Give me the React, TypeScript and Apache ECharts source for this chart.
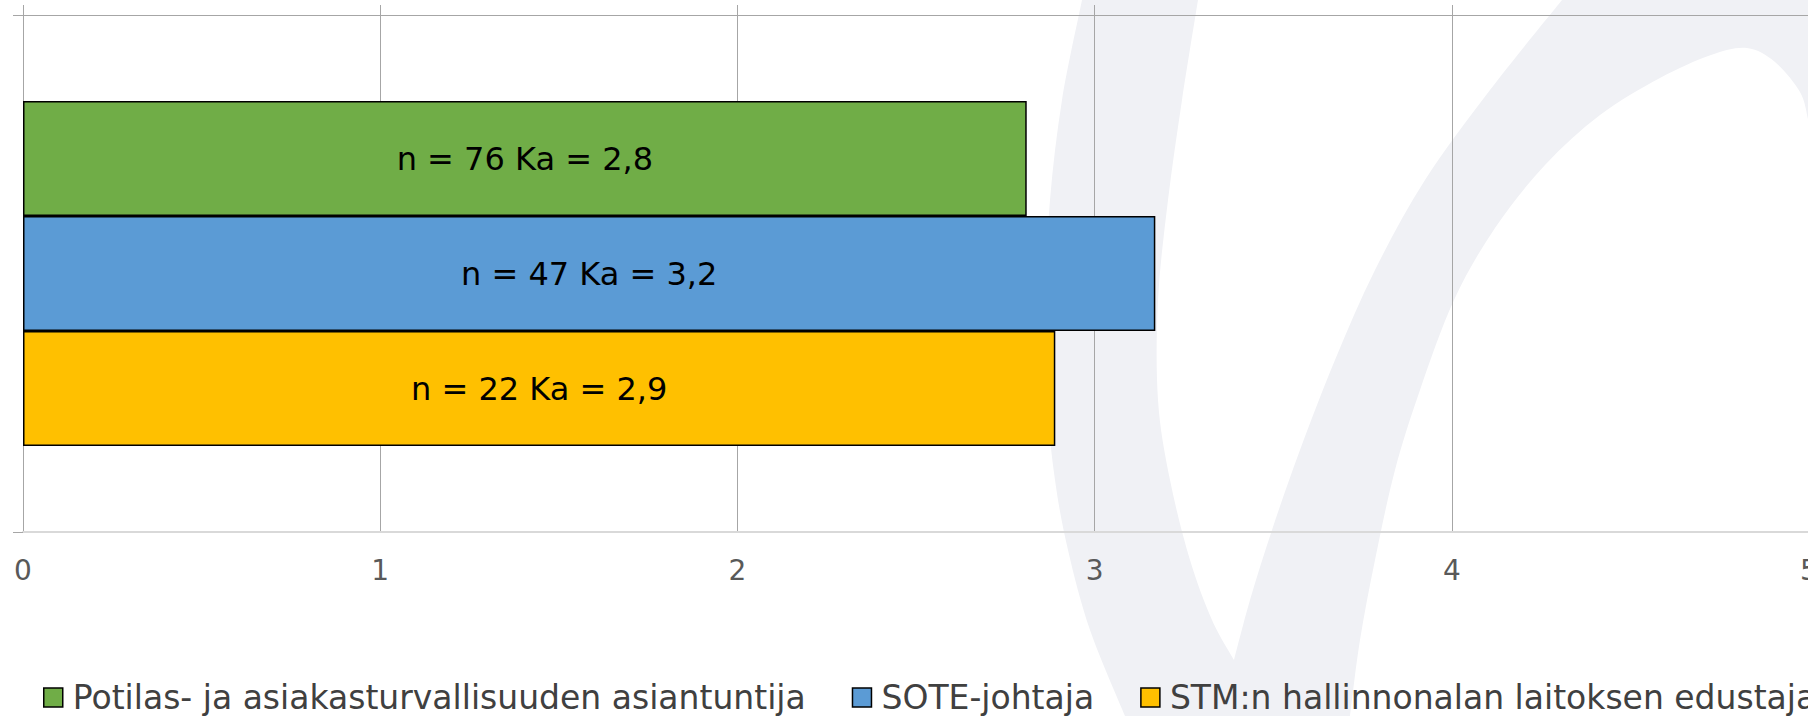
import React, { useEffect, useRef } from "react";
import * as echarts from "echarts";

const categories = [""];
const seriesNames = [
  "Potilas- ja asiakasturvallisuuden asiantuntija",
  "SOTE-johtaja",
  "STM:n hallinnonalan laitoksen edustaja",
];
const meanValues = [2.81, 3.17, 2.89];
const respondentCounts = [76, 47, 22];
const seriesColors = ["#70ad47", "#5b9bd5", "#ffc000"];
const axisMin = 0;
const axisMax = 5;
const axisInterval = 1;

// decorative watermark outline (pixel coordinates)
type P = [number, number];
const wmLeftInner: P[] = [[1198, 0], [1182, 100], [1168, 200], [1158, 300], [1158, 400], [1170, 480], [1190, 560], [1212, 620], [1234, 660]];
const wmRightOuter: P[] = [[1234, 660], [1250, 600], [1272, 530], [1300, 450], [1335, 360], [1375, 270], [1425, 180], [1490, 90], [1562, 0]];
const wmRightInner: P[] = [[1808, 119], [1800, 92], [1775, 62], [1747, 48], [1711, 55], [1660, 78], [1600, 115], [1545, 165], [1495, 228], [1454, 300], [1420, 390], [1395, 470], [1375, 560], [1360, 640], [1350, 716]];
const wmLeftOuter: P[] = [[1125, 716], [1090, 630], [1068, 550], [1055, 480], [1047, 400], [1045, 300], [1050, 200], [1062, 100], [1082, 0]];

function curve(pts: P[]): string {
  let d = "";
  for (let i = 0; i < pts.length - 1; i++) {
    const p0 = pts[i - 1] || pts[i];
    const p1 = pts[i];
    const p2 = pts[i + 1];
    const p3 = pts[i + 2] || p2;
    const c1x = p1[0] + (p2[0] - p0[0]) / 6;
    const c1y = p1[1] + (p2[1] - p0[1]) / 6;
    const c2x = p2[0] - (p3[0] - p1[0]) / 6;
    const c2y = p2[1] - (p3[1] - p1[1]) / 6;
    d += ` C${c1x.toFixed(1)} ${c1y.toFixed(1)} ${c2x.toFixed(1)} ${c2y.toFixed(1)} ${p2[0]} ${p2[1]}`;
  }
  return d;
}

const wmPath =
  `M1082 0 L1198 0` +
  curve(wmLeftInner) +
  curve(wmRightOuter) +
  ` L1808 0 L1808 119` +
  curve(wmRightInner) +
  ` L1125 716` +
  curve(wmLeftOuter) +
  " Z";

echarts.graphic.registerShape("wmlogo", echarts.graphic.extendPath(wmPath, {}) as any);

const FONT = "DejaVu Sans";

export default function App() {
  const ref = useRef<HTMLDivElement>(null);
  useEffect(() => {
    if (!ref.current) return;
    const chart = echarts.init(ref.current, undefined, { renderer: "svg" });
    const option: any = {
      animation: false,
      backgroundColor: "#ffffff",
      textStyle: { fontFamily: FONT },
      graphic: {
        elements: [
          {
            type: "wmlogo",
            x: 0,
            y: 0,
            z: -100,
            silent: true,
            style: { fill: "#f0f1f5" },
          },
        ],
      },
      grid: {
        left: 23,
        top: 15,
        width: 1786,
        height: 517,
        containLabel: false,
        outerBoundsMode: "none",
      },
      legend: {
        left: 43,
        top: 681,
        width: 4000,
        padding: 0,
        orient: "horizontal",
        itemWidth: 19,
        itemHeight: 19,
        itemGap: 46,
        icon: "rect",
        itemStyle: { borderColor: "#000", borderWidth: 1.5 },
        textStyle: { fontSize: 33, color: "#404040", fontFamily: FONT, padding: [0, 0, 10, 5] },
        data: seriesNames,
      },
      xAxis: [
        {
          type: "value",
          position: "bottom",
          min: axisMin,
          max: axisMax,
          interval: axisInterval,
          axisLine: { show: true, lineStyle: { color: "#d9d9d9", width: 2 } },
          axisTick: { show: false },
          axisLabel: { color: "#595959", fontSize: 28, margin: 24, fontFamily: FONT },
          splitLine: { show: true, lineStyle: { color: "#a6a6a6", width: 1 } },
        },
        {
          type: "value",
          position: "top",
          min: axisMin,
          max: axisMax,
          interval: axisInterval,
          axisLine: { show: true, lineStyle: { color: "#a6a6a6", width: 1 } },
          axisTick: { show: true, length: 10, lineStyle: { color: "#a6a6a6" } },
          axisLabel: { show: false },
          splitLine: { show: false },
        },
      ],
      yAxis: {
        type: "category",
        data: categories,
        axisLine: { show: false },
        axisTick: { show: true, length: 10, lineStyle: { color: "#a6a6a6" } },
        axisLabel: { show: false },
        splitLine: { show: false },
      },
      series: seriesNames.map((name, i) => ({
        type: "bar",
        name,
        xAxisIndex: 0,
        data: [meanValues[i]],
        barWidth: 115,
        barGap: "0%",
        itemStyle: { color: seriesColors[i], borderColor: "#000", borderWidth: 1.5 },
        label: {
          show: true,
          position: "inside",
          formatter: `n = ${respondentCounts[i]} Ka = ${meanValues[i].toFixed(1).replace(".", ",")}`,
          color: "#000",
          fontSize: 32,
          fontFamily: FONT,
        },
      })),
    };
    chart.setOption(option);
    return () => chart.dispose();
  }, []);
  return (
    <div
      ref={ref}
      style={{ position: "fixed", left: 0, top: 0, width: 1808, height: 716, background: "#fff" }}
    />
  );
}
